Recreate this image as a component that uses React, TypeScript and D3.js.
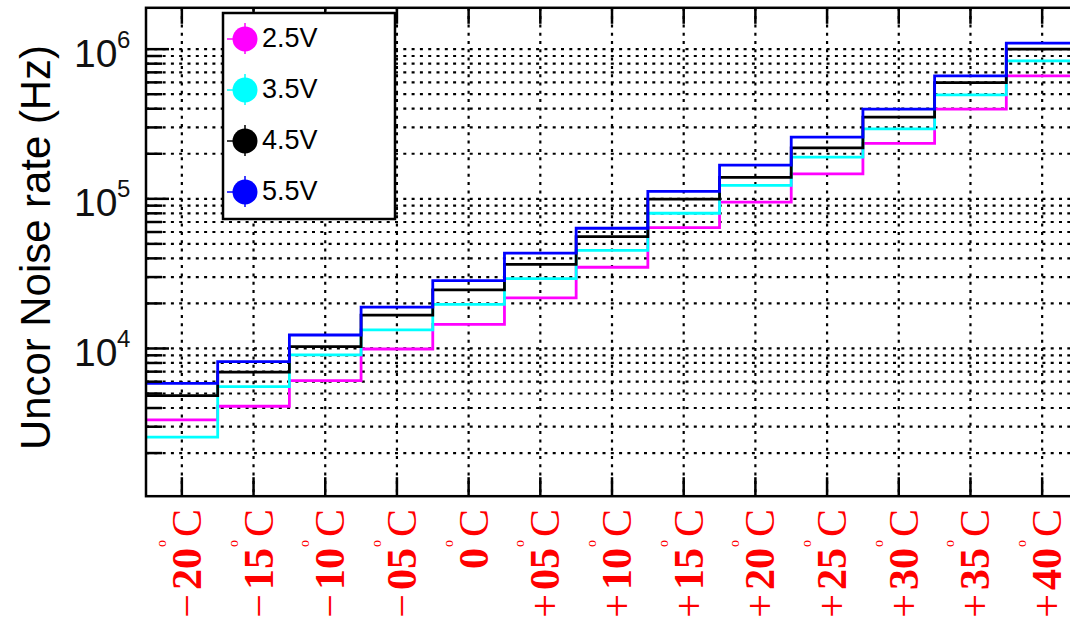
import React from 'react';
import * as d3 from 'd3';

// ---- data ----
const labelSigns = ['−', '−', '−', '−', '', '+', '+', '+', '+', '+', '+', '+', '+'];
const labelNumbers = ['20', '15', '10', '05', '0', '05', '10', '15', '20', '25', '30', '35', '40'];
const categories = labelNumbers.map((n, i) => labelSigns[i] + n + ' °C');

const seriesNames = ['2.5V', '3.5V', '4.5V', '5.5V'];
const seriesColors = ['#ff00ff', '#00ffff', '#000000', '#0000ff'];

const rate25V = [3330, 4110, 6090, 9920, 14500, 21800, 34900, 64200, 94900, 146700, 235000, 397000, 663000];
const rate35V = [2560, 5560, 9050, 13300, 19700, 29300, 45300, 80100, 123000, 190000, 293000, 495000, 835000];
const rate45V = [4840, 6940, 10300, 16700, 24600, 36500, 55900, 99400, 139000, 219000, 351000, 598000, 1000000];
const rate55V = [5850, 8160, 12300, 18900, 28400, 43300, 63600, 112000, 168000, 258000, 397000, 663000, 1097000];
const seriesValues = [rate25V, rate35V, rate45V, rate55V];

const yMajorExponents = [4, 5, 6];
const yTitle = 'Uncor Noise rate (Hz)';
const yDomain = [1030, 1.89e6];

// ---- layout ----
const W = 1070;
const H = 624;
const frame = { left: 146, right: 1078, top: 7.8, bottom: 496.2 };

const sans = "'Liberation Sans', Arial, Helvetica, sans-serif";
const serif = "'Liberation Serif', 'Times New Roman', Times, serif";

export default function App() {
  const x = d3.scaleBand<string>().domain(categories).range([frame.left, frame.right]).paddingInner(0).paddingOuter(0);
  const y = d3.scaleLog().domain(yDomain).range([frame.bottom, frame.top]);
  const bw = x.bandwidth();

  const yTicks = y.ticks().filter((v) => v >= yDomain[0] && v <= yDomain[1]);
  const isMajor = (v: number) => Math.abs(Math.log10(v) - Math.round(Math.log10(v))) < 1e-9;

  const line = d3
    .line<[number, number]>()
    .x((d) => d[0])
    .y((d) => d[1]);

  const histPath = (vals: number[]) => {
    const pts: [number, number][] = [];
    vals.forEach((v, i) => {
      const x0 = x(categories[i]) as number;
      pts.push([x0, y(v)]);
      pts.push([x0 + bw, y(v)]);
    });
    return line(pts) || '';
  };

  const gridDash = '3 5.3';

  return (
    <div style={{ position: 'fixed', left: 0, top: 0 }}>
      <svg width={W} height={H} viewBox={`0 0 ${W} ${H}`} style={{ display: 'block', background: '#fff' }}>
        <rect x={0} y={0} width={W} height={H} fill="#fff" />
        {/* grid */}
        <g stroke="#000" strokeWidth={2.2} strokeDasharray={gridDash}>
          {yTicks.map((v, i) => (
            <line key={'gy' + i} x1={frame.left} x2={frame.right} y1={y(v)} y2={y(v)} />
          ))}
          {categories.map((c) => {
            const cx = (x(c) as number) + bw / 2;
            return <line key={'gx' + c} x1={cx} x2={cx} y1={frame.top} y2={frame.bottom} />;
          })}
        </g>

        {/* histograms */}
        <g fill="none" strokeWidth={2.8}>
          {seriesValues.map((vals, si) => (
            <path key={'h' + si} d={histPath(vals)} stroke={seriesColors[si]} />
          ))}
        </g>

        {/* frame */}
        <rect
          x={frame.left}
          y={frame.top}
          width={frame.right - frame.left}
          height={frame.bottom - frame.top}
          fill="none"
          stroke="#000"
          strokeWidth={2.5}
        />

        {/* y ticks */}
        <g stroke="#000" strokeWidth={2.5}>
          {yTicks.map((v, i) => (
            <line key={'ty' + i} x1={frame.left} x2={frame.left + (isMajor(v) ? 23 : 16)} y1={y(v)} y2={y(v)} />
          ))}
        </g>
        {/* x ticks */}
        <g stroke="#000" strokeWidth={2.5}>
          {categories.map((c) => {
            const cx = (x(c) as number) + bw / 2;
            return (
              <g key={'tx' + c}>
                <line x1={cx} x2={cx} y1={frame.bottom} y2={frame.bottom - 19} />
                <line x1={cx} x2={cx} y1={frame.top} y2={frame.top + 16} />
              </g>
            );
          })}
        </g>

        {/* y tick labels */}
        {yMajorExponents.map((e) => {
          const yy = y(Math.pow(10, e));
          return (
            <g key={'yl' + e} fontFamily={sans} fill="#111">
              <text x={117.5} y={yy + 17.5} fontSize={39} textAnchor="end">
                10
              </text>
              <text x={117} y={yy - 1.5} fontSize={24}>
                {e}
              </text>
            </g>
          );
        })}

        {/* y title */}
        <text
          transform={`translate(50,${(45 + 450) / 2}) rotate(-90)`}
          textAnchor="middle"
          fontFamily={sans}
          fontSize={43}
          textLength={405}
          lengthAdjust="spacingAndGlyphs"
          fill="#000"
        >
          {yTitle}
        </text>

        {/* x labels */}
        {categories.map((c, i) => {
          const cx = (x(c) as number) + bw / 2;
          const sign = labelSigns[i];
          return (
            <text
              key={'xl' + c}
              transform={`translate(${cx + 19},509) rotate(-90)`}
              textAnchor="end"
              fontFamily={serif}
              fontSize={42}
              fill="#ff0000"
            >
              {sign ? <tspan>{sign}</tspan> : null}
              <tspan dx={sign ? 4 : 0} fontWeight="bold">
                {labelNumbers[i]}
              </tspan>
              <tspan dx={1} dy={-35} fontSize={14}>
                o
              </tspan>
              <tspan dx={3} dy={35}>
                C
              </tspan>
            </text>
          );
        })}

        {/* legend */}
        <rect x={223} y={13} width={172} height={206} fill="#fff" stroke="#000" strokeWidth={2.5} />
        {seriesNames.map((name, i) => {
          const cy = 39 + i * 51;
          const cx = 245;
          const col = seriesColors[i];
          return (
            <g key={'lg' + name}>
              <line x1={cx - 18} x2={cx} y1={cy} y2={cy} stroke={col} strokeWidth={1.5} />
              <line x1={cx} x2={cx} y1={cy - 16} y2={cy + 15} stroke={col} strokeWidth={1.5} />
              <circle cx={cx} cy={cy} r={12.5} fill={col} />
              <text x={262} y={cy + 7.7} fontFamily={sans} fontSize={27} fill="#000">
                {name}
              </text>
            </g>
          );
        })}
      </svg>
    </div>
  );
}
